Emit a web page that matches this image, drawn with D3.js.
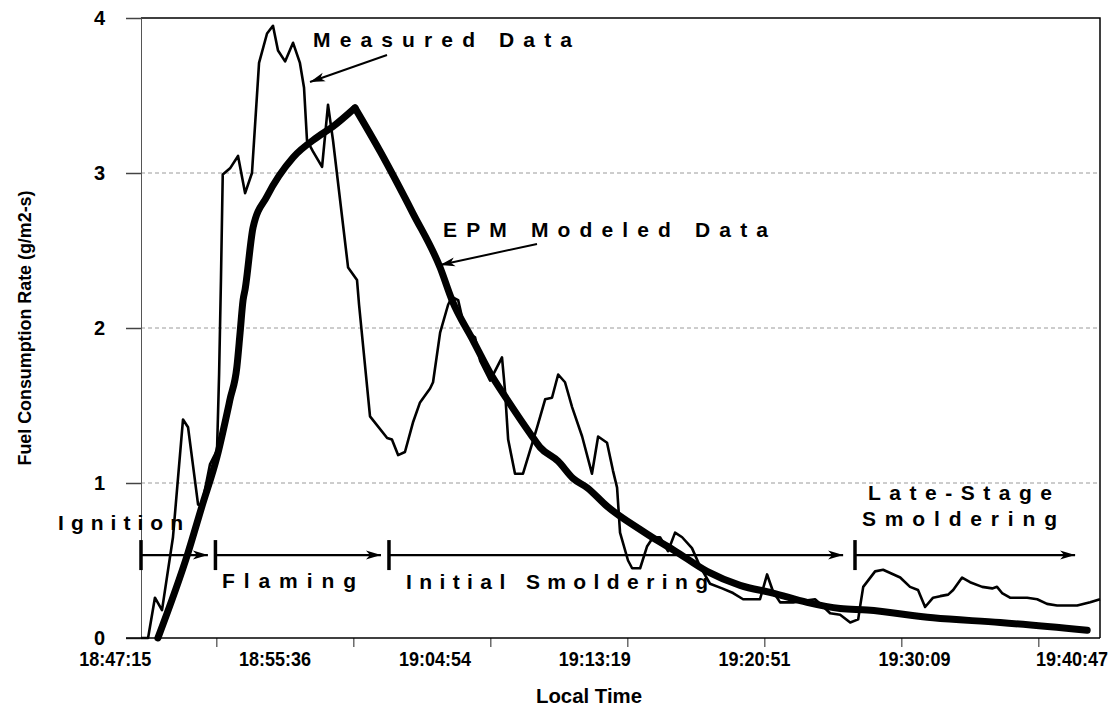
<!DOCTYPE html>
<html>
<head>
<meta charset="utf-8">
<script src="https://cdn.jsdelivr.net/npm/d3@7"></script>
<style>
  body { margin: 0; background: #fff; }
  text { font-family: "Liberation Sans", Arial, sans-serif; font-weight: bold; fill: #000; }
</style>
</head>
<body>
<div id="chart"></div>
<script>
// measured fuel consumption (x = sample position along the category axis)
var measuredIdx = [0.00, 0.31, 0.61, 0.92, 1.40, 1.84, 2.06, 2.50, 2.67, 3.02,
  3.33, 3.42, 3.50, 3.58, 3.90, 4.25, 4.56, 4.86, 5.17, 5.52,
  5.78, 6.00, 6.31, 6.66, 6.96, 7.14, 7.27, 7.53, 7.93, 8.19,
  8.41, 9.07, 9.46, 9.55, 10.03, 10.78, 10.99, 11.26, 11.56, 11.91,
  12.22, 12.66, 12.79, 13.10, 13.45, 13.62, 13.89, 14.06, 14.32, 14.63,
  14.85, 15.29, 15.81, 15.94, 16.08, 16.38, 16.73, 17.35, 17.70, 18.00,
  18.27, 18.57, 18.88, 19.32, 19.75, 20.02, 20.41, 20.67, 20.85, 20.98,
  21.33, 21.51, 21.86, 22.16, 22.43, 22.73, 23.08, 23.39, 23.70, 24.13,
  24.49, 24.92, 25.45, 25.93, 26.37, 27.11, 27.42, 27.68, 27.99, 28.56,
  29.52, 29.83, 30.18, 30.62, 31.06, 31.41, 31.49, 31.63, 31.84, 32.15,
  32.50, 33.25, 33.68, 34.03, 34.34, 34.69, 35.00, 35.35, 35.57, 35.96,
  36.31, 36.84, 37.28, 37.49, 37.71, 38.06, 38.81, 39.25, 39.68, 40.12,
  41.00, 41.57, 42.00];
var measuredVal = [0, 0, 0.26, 0.18, 0.65, 1.41, 1.36, 0.86, 0.86, 1.12,
  1.21, 1.70, 2.30, 2.99, 3.03, 3.11, 2.87, 3.00, 3.71, 3.90,
  3.95, 3.79, 3.72, 3.84, 3.71, 3.55, 3.21, 3.14, 3.04, 3.44,
  3.21, 2.39, 2.31, 2.15, 1.43, 1.29, 1.28, 1.18, 1.20, 1.39,
  1.52, 1.61, 1.65, 1.97, 2.15, 2.20, 2.18, 2.07, 1.97, 1.94,
  1.79, 1.66, 1.81, 1.60, 1.28, 1.06, 1.06, 1.36, 1.54, 1.55,
  1.70, 1.65, 1.49, 1.30, 1.06, 1.30, 1.26, 1.08, 0.97, 0.68,
  0.50, 0.45, 0.45, 0.59, 0.65, 0.65, 0.56, 0.68, 0.65, 0.58,
  0.46, 0.35, 0.32, 0.29, 0.25, 0.25, 0.41, 0.30, 0.23, 0.23,
  0.25, 0.21, 0.16, 0.15, 0.10, 0.12, 0.20, 0.33, 0.37, 0.43,
  0.44, 0.39, 0.33, 0.31, 0.20, 0.26, 0.27, 0.28, 0.31, 0.39,
  0.36, 0.33, 0.32, 0.33, 0.29, 0.26, 0.26, 0.25, 0.22, 0.21,
  0.21, 0.23, 0.25];

// EPM modeled curve
var modeledIdx = [0.74, 2.06, 2.67, 3.33, 3.90, 4.20, 4.34, 4.47, 4.56, 4.91,
  5.52, 6.66, 7.71, 8.41, 9.37, 10.47, 11.91, 13.10, 13.62, 14.54,
  15.29, 16.03, 17.04, 17.48, 18.27, 18.92, 19.54, 20.41, 21.86, 22.60,
  23.30, 24.79, 26.24, 27.68, 29.17, 30.62, 31.80, 34.69, 37.63, 41.44];
var modeledVal = [0, 0.55, 0.85, 1.17, 1.54, 1.75, 1.97, 2.18, 2.25, 2.65,
  2.85, 3.10, 3.23, 3.30, 3.42, 3.14, 2.74, 2.39, 2.18, 1.92,
  1.71, 1.54, 1.32, 1.23, 1.14, 1.03, 0.97, 0.85, 0.70, 0.63,
  0.57, 0.43, 0.34, 0.29, 0.23, 0.19, 0.18, 0.13, 0.10, 0.05];

// axis ticks
var tickIdx = [3.3, 9.3, 15.3, 21.3, 27.3, 33.3, 39.3];
var labelIdx = [-1.15, 5.85, 12.85, 19.85, 26.85, 33.85, 40.75];
var timeLabels = ['18:47:15', '18:55:36', '19:04:54', '19:13:19', '19:20:51', '19:30:09', '19:40:47'];
var yTicks = [0, 1, 2, 3, 4];

// burn stages
var stageNames = ['Ignition', 'Flaming', 'Initial Smoldering', 'Late-Stage Smoldering'];
var stageStart = [0, 3.26, 10.86, 31.27];
var stageEnd = [2.93, 10.51, 30.75, 40.91];
var stageLevel = 0.535;

//Basic setting
var w = 1114, h = 708;
var margin = {top: 18, right: 14, bottom: 70, left: 141};
var innerW = w - margin.left - margin.right,
    innerH = h - margin.top - margin.bottom;

var root = d3.select('#chart').append('svg')
    .attr('width', w)
    .attr('height', h);
var svg = root.append('g')
    .attr('transform', 'translate(' + [margin.left, margin.top] + ')');

var defs = root.append('defs');
defs.append('marker')
    .attr('id', 'head')
    .attr('markerUnits', 'userSpaceOnUse')
    .attr('viewBox', '-16 -5 17 10')
    .attr('markerWidth', 17).attr('markerHeight', 10)
    .attr('refX', 0).attr('refY', 0)
    .attr('orient', 'auto')
    .append('path')
    .attr('d', 'M0,0 L-15,-4.5 L-11,0 L-15,4.5 Z')
    .attr('fill', '#000');

//Scales
var x = d3.scaleLinear().domain([0, 42]).range([0, innerW]);
var y = d3.scaleLinear().domain([0, 4]).range([innerH, 0]);

//Grid lines
svg.selectAll('line.grid')
    .data([1, 2, 3]).enter()
    .append('line')
    .attr('class', 'grid')
    .attr('x1', 0).attr('x2', innerW)
    .attr('y1', function(d) {return y(d)})
    .attr('y2', function(d) {return y(d)})
    .attr('stroke', '#9a9a9a')
    .attr('stroke-width', 1)
    .attr('stroke-dasharray', '4,3');

//Frame (top & right)
svg.append('path')
    .attr('d', 'M0,' + y(4) + 'H' + innerW + 'V' + innerH)
    .attr('fill', 'none')
    .attr('stroke', '#000')
    .attr('stroke-width', 1.5);

//Y axis
var yAxis = svg.append('g')
    .call(d3.axisLeft(y).tickValues(yTicks).tickSize(15).tickSizeOuter(0).tickPadding(21).tickFormat(d3.format('d')));
yAxis.select('.domain').attr('stroke', '#555');
yAxis.selectAll('.tick line').attr('stroke', '#444').attr('stroke-width', 1.5);
yAxis.selectAll('.tick text').attr('font-size', '20px').attr('font-family', null);

//X axis: tick marks and labels sit at different spacings
var xTicks = svg.append('g')
    .attr('transform', 'translate(0,' + innerH + ')')
    .call(d3.axisBottom(x).tickValues(tickIdx).tickSize(9).tickSizeOuter(0).tickFormat(''));
xTicks.select('.domain').remove();
xTicks.selectAll('.tick line').attr('stroke', '#222');
svg.append('line')
    .attr('x1', -15).attr('x2', innerW)
    .attr('y1', innerH).attr('y2', innerH)
    .attr('stroke', '#000').attr('stroke-width', 1.3);

var xLabels = svg.append('g')
    .attr('transform', 'translate(0,' + innerH + ')')
    .call(d3.axisBottom(x).tickValues(labelIdx).tickSize(0).tickPadding(14)
        .tickFormat(function(d, i) {return timeLabels[i]}));
xLabels.select('.domain').remove();
// labels are narrow and tall in the original, squeeze them horizontally
xLabels.selectAll('.tick text')
    .attr('font-size', '20px')
    .attr('font-family', null)
    .attr('transform', 'scale(0.9,1)');

//Axis titles
svg.append('text')
    .attr('transform', 'translate(' + (-110) + ',' + (innerH / 2) + ') rotate(-90)')
    .attr('text-anchor', 'middle')
    .attr('font-size', '19px')
    .attr('textLength', 275)
    .attr('lengthAdjust', 'spacingAndGlyphs')
    .text('Fuel Consumption Rate (g/m2-s)');

svg.append('text')
    .attr('x', 395).attr('y', innerH + 65)
    .attr('font-size', '21px')
    .attr('textLength', 106)
    .attr('lengthAdjust', 'spacingAndGlyphs')
    .text('Local Time');

//Lines
var line = d3.line()
    .x(function(d) {return x(d[0])})
    .y(function(d) {return y(d[1])});
var smooth = d3.line()
    .x(function(d) {return x(d[0])})
    .y(function(d) {return y(d[1])})
    .curve(d3.curveMonotoneX);

// modeled: rising and falling limbs drawn separately so the peak stays sharp
var modeled = d3.zip(modeledIdx, modeledVal);
var peak = d3.maxIndex(modeledVal);
[modeled.slice(0, peak + 1), modeled.slice(peak)].forEach(function(part) {
    svg.append('path')
        .datum(part)
        .attr('d', smooth)
        .attr('fill', 'none')
        .attr('stroke', '#000')
        .attr('stroke-width', 7)
        .attr('stroke-linejoin', 'round')
        .attr('stroke-linecap', 'round');
});

svg.append('path')
    .datum(d3.zip(measuredIdx, measuredVal))
    .attr('d', line)
    .attr('fill', 'none')
    .attr('stroke', '#000')
    .attr('stroke-width', 2.6)
    .attr('stroke-linejoin', 'round');

//Stage bars
var stages = svg.selectAll('g.stage')
    .data(d3.range(stageNames.length)).enter()
    .append('g')
    .attr('class', 'stage');
stages.append('line')
    .attr('x1', function(i) {return x(stageStart[i])})
    .attr('x2', function(i) {return x(stageEnd[i])})
    .attr('y1', y(stageLevel)).attr('y2', y(stageLevel))
    .attr('stroke', '#000').attr('stroke-width', 2.2)
    .attr('marker-end', 'url(#head)');
stages.append('line')
    .attr('x1', function(i) {return x(stageStart[i])})
    .attr('x2', function(i) {return x(stageStart[i])})
    .attr('y1', y(stageLevel) - 15).attr('y2', y(stageLevel) + 15)
    .attr('stroke', '#000').attr('stroke-width', 3.5);

//Annotations
function label(str, lx, ly, len) {
    svg.append('text')
        .attr('x', lx).attr('y', ly)
        .attr('font-size', '21px')
        .attr('textLength', len)
        .attr('lengthAdjust', 'spacing')
        .text(str);
}
label('Measured Data', 172, 29, 259);
label('EPM Modeled Data', 302, 219, 325);
label(stageNames[0], -83, 512, 125);
label(stageNames[1], 81, 570, 134);
label(stageNames[2], 265, 571, 302);
label('Late-Stage', 727, 482, 184);
label('Smoldering', 721, 508, 195);

// pointer arrows
svg.append('line')
    .attr('x1', 246).attr('y1', 37).attr('x2', 169).attr('y2', 64)
    .attr('stroke', '#000').attr('stroke-width', 2)
    .attr('marker-end', 'url(#head)');
svg.append('line')
    .attr('x1', 396).attr('y1', 226).attr('x2', 299).attr('y2', 247)
    .attr('stroke', '#000').attr('stroke-width', 2)
    .attr('marker-end', 'url(#head)');
</script>
</body>
</html>
